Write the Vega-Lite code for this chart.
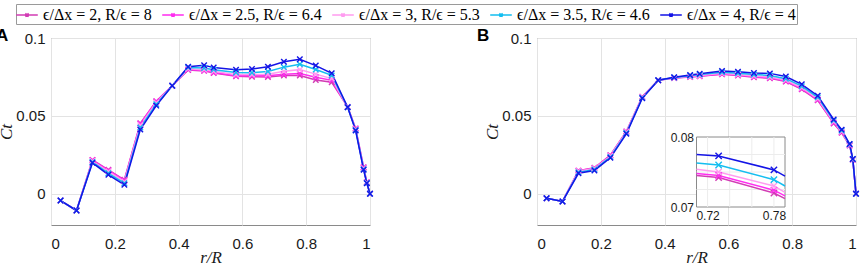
{
  "$schema": "https://vega.github.io/schema/vega-lite/v6.json",
  "padding": {"left": -5, "top": 3, "right": 0, "bottom": 4},
  "background": "white",
  "config": {
    "view": {"stroke": "#8a8a8a", "strokeWidth": 1},
    "font": "Liberation Sans",
    "axis": {
      "labelFont": "Liberation Sans", "labelFontSize": 15, "labelColor": "#1a1a1a",
      "ticks": false, "domain": false, "gridColor": "#e3e3e3", "gridWidth": 1,
      "titleFont": "Liberation Serif", "titleFontStyle": "italic", "titleFontWeight": "normal",
      "titleFontSize": 17, "titleColor": "#1a1a1a"
    },
    "title": {"offset": 0, "baseline": "bottom"},
    "legend": {
      "symbolType": "M-1.2,0L1.2,0M-0.18,-0.18L0.18,0.18M-0.18,0.18L0.18,-0.18",
      "symbolSize": 324, "symbolStrokeWidth": 1.5, "symbolFillColor": "transparent",
      "labelFont": "Liberation Serif", "labelFontSize": 16, "labelColor": "#000000",
      "strokeColor": "#9a9a9a", "fillColor": "white", "padding": 1, "columnPadding": 7, "labelOffset": 6
    }
  },
  "datasets": {
    "a": [
      {"r": 0.03, "s1": -0.0043, "s2": -0.0043, "s3": -0.0043, "s4": -0.0043, "s5": -0.0043},
      {"r": 0.08, "s1": -0.0107, "s2": -0.0107, "s3": -0.0107, "s4": -0.0107, "s5": -0.0107},
      {"r": 0.13, "s1": 0.0218, "s2": 0.0215, "s3": 0.0210, "s4": 0.0204, "s5": 0.0199},
      {"r": 0.18, "s1": 0.0154, "s2": 0.0150, "s3": 0.0143, "s4": 0.0132, "s5": 0.0122},
      {"r": 0.23, "s1": 0.0090, "s2": 0.0086, "s3": 0.0078, "s4": 0.0068, "s5": 0.0058},
      {"r": 0.28, "s1": 0.0453, "s2": 0.0450, "s3": 0.0440, "s4": 0.0425, "s5": 0.0412},
      {"r": 0.33, "s1": 0.0594, "s2": 0.0592, "s3": 0.0585, "s4": 0.0575, "s5": 0.0566},
      {"r": 0.38, "s1": 0.0694, "s2": 0.0694, "s3": 0.0694, "s4": 0.0694, "s5": 0.0694},
      {"r": 0.43, "s1": 0.0795, "s2": 0.0798, "s3": 0.0802, "s4": 0.0810, "s5": 0.0816},
      {"r": 0.48, "s1": 0.0789, "s2": 0.0792, "s3": 0.0797, "s4": 0.0807, "s5": 0.0825},
      {"r": 0.51, "s1": 0.0776, "s2": 0.0779, "s3": 0.0786, "s4": 0.0797, "s5": 0.0810},
      {"r": 0.58, "s1": 0.0754, "s2": 0.0758, "s3": 0.0765, "s4": 0.0778, "s5": 0.0797},
      {"r": 0.63, "s1": 0.0752, "s2": 0.0757, "s3": 0.0765, "s4": 0.0777, "s5": 0.0801},
      {"r": 0.68, "s1": 0.0750, "s2": 0.0757, "s3": 0.0768, "s4": 0.0785, "s5": 0.0816},
      {"r": 0.73, "s1": 0.0759, "s2": 0.0768, "s3": 0.0787, "s4": 0.0813, "s5": 0.0848},
      {"r": 0.78, "s1": 0.0759, "s2": 0.0772, "s3": 0.0797, "s4": 0.0832, "s5": 0.0863},
      {"r": 0.83, "s1": 0.0731, "s2": 0.0748, "s3": 0.0768, "s4": 0.0798, "s5": 0.0823},
      {"r": 0.88, "s1": 0.0716, "s2": 0.0728, "s3": 0.0740, "s4": 0.0760, "s5": 0.0774},
      {"r": 0.93, "s1": 0.0558, "s2": 0.0557, "s3": 0.0557, "s4": 0.0556, "s5": 0.0556},
      {"r": 0.955, "s1": 0.0419, "s2": 0.0417, "s3": 0.0413, "s4": 0.0410, "s5": 0.0406},
      {"r": 0.98, "s1": 0.0171, "s2": 0.0168, "s3": 0.0163, "s4": 0.0158, "s5": 0.0154},
      {"r": 0.99, "s1": 0.0075, "s2": 0.0073, "s3": 0.0071, "s4": 0.0070, "s5": 0.0068},
      {"r": 1.0, "s1": 0, "s2": 0, "s3": 0, "s4": 0, "s5": 0}
    ],
    "b": [
      {"r": 0.03, "s1": -0.0028, "s2": -0.0028, "s3": -0.0028, "s4": -0.0028, "s5": -0.0028},
      {"r": 0.08, "s1": -0.0049, "s2": -0.0049, "s3": -0.0049, "s4": -0.0049, "s5": -0.0049},
      {"r": 0.13, "s1": 0.0149, "s2": 0.0148, "s3": 0.0145, "s4": 0.0138, "s5": 0.0132},
      {"r": 0.18, "s1": 0.0167, "s2": 0.0165, "s3": 0.0162, "s4": 0.0156, "s5": 0.0150},
      {"r": 0.23, "s1": 0.0248, "s2": 0.0246, "s3": 0.0243, "s4": 0.0237, "s5": 0.0231},
      {"r": 0.28, "s1": 0.0400, "s2": 0.0398, "s3": 0.0395, "s4": 0.0390, "s5": 0.0385},
      {"r": 0.33, "s1": 0.0623, "s2": 0.0622, "s3": 0.0620, "s4": 0.0616, "s5": 0.0613},
      {"r": 0.38, "s1": 0.0729, "s2": 0.0729, "s3": 0.0729, "s4": 0.0729, "s5": 0.0729},
      {"r": 0.43, "s1": 0.0743, "s2": 0.0744, "s3": 0.0745, "s4": 0.0747, "s5": 0.0748},
      {"r": 0.48, "s1": 0.0750, "s2": 0.0752, "s3": 0.0754, "s4": 0.0758, "s5": 0.0763},
      {"r": 0.51, "s1": 0.0754, "s2": 0.0756, "s3": 0.0759, "s4": 0.0765, "s5": 0.0771},
      {"r": 0.58, "s1": 0.0767, "s2": 0.0769, "s3": 0.0773, "s4": 0.0780, "s5": 0.0789},
      {"r": 0.63, "s1": 0.0759, "s2": 0.0762, "s3": 0.0766, "s4": 0.0774, "s5": 0.0784},
      {"r": 0.68, "s1": 0.0748, "s2": 0.0751, "s3": 0.0756, "s4": 0.0765, "s5": 0.0776},
      {"r": 0.73, "s1": 0.0742, "s2": 0.0745, "s3": 0.0750, "s4": 0.0760, "s5": 0.0773},
      {"r": 0.78, "s1": 0.0720, "s2": 0.0724, "s3": 0.0730, "s4": 0.0739, "s5": 0.0753},
      {"r": 0.83, "s1": 0.0671, "s2": 0.0675, "s3": 0.0681, "s4": 0.0691, "s5": 0.0703},
      {"r": 0.88, "s1": 0.0600, "s2": 0.0604, "s3": 0.0610, "s4": 0.0619, "s5": 0.0630},
      {"r": 0.93, "s1": 0.0452, "s2": 0.0456, "s3": 0.0462, "s4": 0.0470, "s5": 0.0477},
      {"r": 0.955, "s1": 0.0392, "s2": 0.0395, "s3": 0.0400, "s4": 0.0406, "s5": 0.0412},
      {"r": 0.98, "s1": 0.0310, "s2": 0.0312, "s3": 0.0315, "s4": 0.0318, "s5": 0.0320},
      {"r": 0.99, "s1": 0.0219, "s2": 0.0220, "s3": 0.0221, "s4": 0.0223, "s5": 0.0224},
      {"r": 1.0, "s1": 0, "s2": 0, "s3": 0, "s4": 0, "s5": 0}
    ],
    "inset": [
      {"r": 0.71, "s1": 0.0745, "s2": 0.0748, "s3": 0.0754, "s4": 0.0763, "s5": 0.0775},
      {"r": 0.73, "s1": 0.0742, "s2": 0.0745, "s3": 0.0750, "s4": 0.0760, "s5": 0.0773},
      {"r": 0.78, "s1": 0.0720, "s2": 0.0724, "s3": 0.0730, "s4": 0.0739, "s5": 0.0753},
      {"r": 0.79, "s1": 0.0712, "s2": 0.0716, "s3": 0.0721, "s4": 0.0730, "s5": 0.0744}
    ]
  },
  "spacing": 99,
  "hconcat": [
    {
      "width": 319, "height": 187,
      "title": {"text": "A", "anchor": "start", "frame": "group", "dx": -55, "dy": 18, "fontSize": 17, "fontWeight": "bold", "font": "Liberation Sans", "color": "#000000"},
      "data": {"name": "a"},
      "transform": [{"fold": ["s1", "s2", "s3", "s4", "s5"], "as": ["series", "ct"]}],
      "encoding": {
        "x": {"field": "r", "type": "quantitative", "scale": {"domain": [0, 1]},
              "axis": {"values": [0, 0.2, 0.4, 0.6, 0.8, 1], "format": ".1~f", "title": "r/R", "labelPadding": 11, "titlePadding": -2}},
        "y": {"field": "ct", "type": "quantitative", "scale": {"domain": [-0.02, 0.1]},
              "axis": {"values": [0, 0.05, 0.1], "format": ".2~f", "title": "Ct", "labelPadding": 6, "titlePadding": 0}},
        "color": {"field": "series", "type": "nominal",
                  "scale": {"domain": ["s1", "s2", "s3", "s4", "s5"], "range": ["#d23cb4", "#ff2df0", "#ff9cf0", "#14bef0", "#1414e6"]},
                  "legend": {"title": null, "orient": "none", "legendX": -35, "legendY": -34, "direction": "horizontal", "columns": 5,
                             "labelExpr": "datum.label == 's1' ? 'ϵ/Δx = 2, R/ϵ = 8' : datum.label == 's2' ? 'ϵ/Δx = 2.5, R/ϵ = 6.4' : datum.label == 's3' ? 'ϵ/Δx = 3, R/ϵ = 5.3' : datum.label == 's4' ? 'ϵ/Δx = 3.5, R/ϵ = 4.6' : 'ϵ/Δx = 4, R/ϵ = 4'"}}
      },
      "layer": [
        {"mark": {"type": "line", "strokeWidth": 1.5}},
        {"mark": {"type": "point", "shape": "M-1,-1L1,1M-1,1L1,-1", "size": 30, "filled": false, "strokeWidth": 1.4, "opacity": 1}}
      ]
    },
    {
      "width": 319, "height": 187,
      "title": {"text": "B", "anchor": "start", "frame": "group", "dx": -60, "dy": 18, "fontSize": 17, "fontWeight": "bold", "font": "Liberation Sans", "color": "#000000"},
      "layer": [
        {
          "data": {"name": "b"},
          "transform": [{"fold": ["s1", "s2", "s3", "s4", "s5"], "as": ["series", "ct"]}],
          "encoding": {
            "x": {"field": "r", "type": "quantitative", "scale": {"domain": [0, 1]},
                  "axis": {"values": [0, 0.2, 0.4, 0.6, 0.8, 1], "format": ".1~f", "title": "r/R", "labelPadding": 11, "titlePadding": -2}},
            "y": {"field": "ct", "type": "quantitative", "scale": {"domain": [-0.02, 0.1]},
                  "axis": {"values": [0, 0.05, 0.1], "format": ".2~f", "title": "Ct", "labelPadding": 6, "titlePadding": 0}},
            "color": {"field": "series", "type": "nominal"}
          },
          "layer": [
            {"mark": {"type": "line", "strokeWidth": 1.5}},
            {"mark": {"type": "point", "shape": "M-1,-1L1,1M-1,1L1,-1", "size": 30, "filled": false, "strokeWidth": 1.4, "opacity": 1}}
          ]
        },
        {
          "layer": [
            {
              "data": {"values": [{}]},
              "mark": {"type": "rect", "fill": "white", "stroke": "#8a8a8a", "strokeWidth": 1},
              "encoding": {
                "x": {"datum": 0.71, "type": "quantitative", "scale": {"domain": [0.71, 0.79], "range": [159.5, 248], "nice": false, "zero": false},
                      "axis": {"orient": "bottom", "offset": -18, "values": [0.72, 0.78], "format": ".2f", "title": null, "grid": false, "labelFontSize": 12, "labelPadding": 3}},
                "x2": {"datum": 0.79},
                "y": {"datum": 0.07, "type": "quantitative", "scale": {"domain": [0.07, 0.08], "range": [169, 99], "nice": false, "zero": false},
                      "axis": {"orient": "left", "offset": -159.5, "values": [0.07, 0.08], "format": ".2f", "title": null, "grid": false, "labelFontSize": 12, "labelPadding": 3}},
                "y2": {"datum": 0.08}
              }
            },
            {
              "data": {"values": [{"g": 0.72}, {"g": 0.74}, {"g": 0.76}, {"g": 0.78}]},
              "mark": {"type": "rule", "color": "#ececec", "strokeWidth": 1},
              "encoding": {
                "x": {"field": "g", "type": "quantitative"},
                "y": {"datum": 0.07, "type": "quantitative"},
                "y2": {"datum": 0.08}
              }
            },
            {
              "data": {"values": [{"g": 0.0725}, {"g": 0.075}, {"g": 0.0775}]},
              "mark": {"type": "rule", "color": "#ececec", "strokeWidth": 1},
              "encoding": {
                "y": {"field": "g", "type": "quantitative"},
                "x": {"datum": 0.71, "type": "quantitative"},
                "x2": {"datum": 0.79}
              }
            },
            {
              "data": {"name": "inset"},
              "transform": [{"fold": ["s1", "s2", "s3", "s4", "s5"], "as": ["series", "ct"]}],
              "mark": {"type": "line", "strokeWidth": 1.5},
              "encoding": {
                "x": {"field": "r", "type": "quantitative"},
                "y": {"field": "ct", "type": "quantitative"},
                "color": {"field": "series", "type": "nominal"}
              }
            },
            {
              "data": {"name": "inset"},
              "transform": [{"fold": ["s1", "s2", "s3", "s4", "s5"], "as": ["series", "ct"]}, {"filter": {"field": "r", "oneOf": [0.73, 0.78]}}],
              "mark": {"type": "point", "shape": "M-1,-1L1,1M-1,1L1,-1", "size": 40, "filled": false, "strokeWidth": 1.4, "opacity": 1},
              "encoding": {
                "x": {"field": "r", "type": "quantitative"},
                "y": {"field": "ct", "type": "quantitative"},
                "color": {"field": "series", "type": "nominal"}
              }
            }
          ]
        }
      ],
      "resolve": {"scale": {"x": "independent", "y": "independent"}}
    }
  ]
}
